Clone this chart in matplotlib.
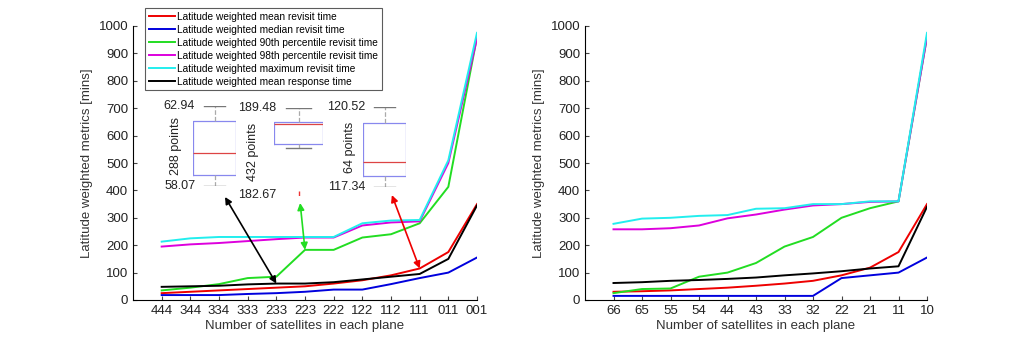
import numpy as np
import matplotlib
matplotlib.use('Agg')
import matplotlib.pyplot as plt

plt.rcParams['font.family'] = ['Liberation Sans', 'DejaVu Sans']

# left panel: three-plane constellations
left_ticks = ['444', '344', '334', '333', '233', '223', '222', '122', '112', '111', '011', '001']
left_mean = [25, 30, 35, 40, 45, 50, 60, 72, 90, 115, 175, 350]
left_median = [18, 18, 18, 22, 25, 30, 38, 38, 58, 80, 100, 155]
left_p90 = [35, 45, 58, 80, 85, 183, 183, 228, 240, 280, 413, 960]
left_p98 = [195, 203, 208, 215, 222, 228, 228, 272, 283, 287, 500, 955]
left_max = [213, 225, 230, 230, 230, 230, 230, 280, 290, 292, 510, 975]
left_resp = [48, 50, 52, 57, 60, 60, 65, 75, 85, 95, 150, 345]

# right panel: two-plane constellations
right_ticks = ['66', '65', '55', '54', '44', '43', '33', '32', '22', '21', '11', '10']
right_mean = [30, 32, 35, 40, 45, 52, 60, 70, 90, 118, 175, 350]
right_median = [15, 15, 15, 15, 15, 15, 15, 15, 80, 90, 100, 155]
right_p90 = [25, 40, 42, 85, 100, 135, 195, 230, 300, 335, 360, 960]
right_p98 = [258, 258, 262, 272, 298, 312, 330, 345, 350, 358, 360, 960]
right_max = [278, 297, 300, 307, 310, 333, 335, 350, 350, 360, 360, 975]
right_resp = [62, 65, 70, 73, 77, 82, 90, 97, 105, 115, 123, 340]

labels = ['Latitude weighted mean revisit time',
          'Latitude weighted median revisit time',
          'Latitude weighted 90th percentile revisit time',
          'Latitude weighted 98th percentile revisit time',
          'Latitude weighted maximum revisit time',
          'Latitude weighted mean response time']
colors = ['#ee0000', '#0000dd', '#22dd22', '#dd00dd', '#22eeee', 'black']

# box plot stats (whislo, q1, med, q3, whishi), sample counts, outliers
box_stats = [
    dict(whislo=58.07, q1=58.74, med=60.08, q3=62.03, whishi=62.94, fliers=[]),
    dict(whislo=186.35, q1=186.66, med=188.23, q3=188.38, whishi=189.48, fliers=[182.67]),
    dict(whislo=117.34, q1=117.78, med=118.33, q3=119.88, whishi=120.52, fliers=[]),
]
box_counts = [288, 432, 64]
box_lows = ['58.07', '182.67', '117.34']
box_highs = ['62.94', '189.48', '120.52']

# arrows: (x index, y) on curve -> (x, y) below box
arrow_from = [(5, 60), (6, 183), (10, 115)]
arrow_to = [(3.21, 376), (5.83, 354), (9.03, 383)]
arrow_colors = ['black', '#22dd22', '#ee0000']

fig = plt.figure(figsize=(10.24, 3.37), dpi=100)
W, H = 1024.0, 337.0
ax1 = fig.add_axes([133 / W, 37 / H, 344 / W, 274 / H])
ax2 = fig.add_axes([585 / W, 37 / H, 342 / W, 274 / H])


def draw_panel(ax, ticks, series):
    x = np.arange(1, len(ticks) + 1)
    for vals, c, lab in zip(series, colors, labels):
        ax.plot(x, vals, color=c, lw=1.4, label=lab)
    ax.set_xlim(0, len(ticks))
    ax.set_ylim(0, 1000)
    ax.set_xticks(x)
    ax.set_xticklabels(ticks)
    ax.set_yticks(np.arange(0, 1001, 100))
    ax.tick_params(direction='in', labelsize=9.5, length=3, color='#444444', labelcolor='#222222')
    ax.spines['top'].set_visible(False)
    ax.spines['right'].set_visible(False)
    ax.set_xlabel('Number of satellites in each plane', fontsize=9.5, color='#333333', labelpad=2)
    ax.set_ylabel('Latitude weighted metrics [mins]', fontsize=9.5, color='#333333')


draw_panel(ax1, left_ticks, [left_mean, left_median, left_p90, left_p98, left_max, left_resp])
draw_panel(ax2, right_ticks, [right_mean, right_median, right_p90, right_p98, right_max, right_resp])

leg = ax1.legend(loc='upper left', bbox_to_anchor=(0.035, 1.065), borderaxespad=0,
                 fontsize=7.3, handlelength=2.6, handletextpad=0.2, labelspacing=0.3,
                 fancybox=False, edgecolor='#333333', borderpad=0.35)
leg.get_frame().set_linewidth(0.8)

# arrows between curves and boxes
for (x0, y0), (x1, y1), c in zip(arrow_from, arrow_to, arrow_colors):
    ax1.annotate('', xy=(x1, y1), xytext=(x0, y0),
                 arrowprops=dict(arrowstyle='<|-|>', color=c, lw=1.2,
                                 mutation_scale=10, shrinkA=0, shrinkB=0))

# inset box plots
box_pix = [(193, 236, 106, 186), (274, 323, 108, 195), (363, 406, 107, 187)]
text_x = [-0.40, -0.43, -0.30]
for st, (xl, xr, yt, yb), n, lo, hi, tx in zip(box_stats, box_pix, box_counts,
                                              box_lows, box_highs, text_x):
    bx = fig.add_axes([xl / W, (H - yb) / H, (xr - xl) / W, (yb - yt) / H])
    bx.bxp([st], positions=[1], widths=1.0, showfliers=True,
           boxprops=dict(color='#8888ee', lw=0.9),
           medianprops=dict(color='#dd4444', lw=0.9),
           whiskerprops=dict(color='#aaaaaa', lw=0.9, ls='--'),
           capprops=dict(color='#777777', lw=1.0),
           flierprops=dict(marker='|', markeredgecolor='#ee3333', markersize=6, ls='none'))
    lo_y = min(st['whislo'], min(st['fliers']) if st['fliers'] else st['whislo'])
    bx.set_xlim(0.5, 1.5)
    bx.set_ylim(lo_y, st['whishi'])
    bx.axis('off')
    bx.text(0.55, st['whishi'], hi, ha='right', va='center', fontsize=9, color='#222222', clip_on=False)
    bx.text(0.55, lo_y, lo, ha='right', va='center', fontsize=9, color='#222222', clip_on=False)
    bx.text(tx, 0.5, '%d points' % n, rotation=90, ha='center', va='center', fontsize=9,
            color='#222222', transform=bx.transAxes, clip_on=False)

fig.savefig('out.png', dpi=100)
